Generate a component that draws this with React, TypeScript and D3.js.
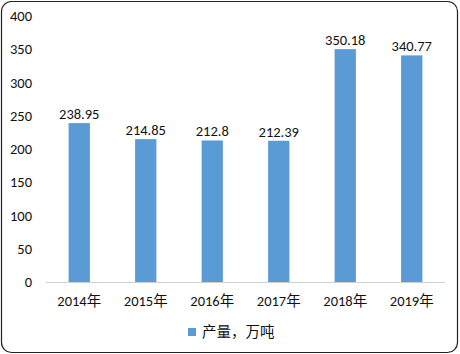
import { useEffect, useRef } from "react"
import * as d3 from "d3"

const years = ["2014年", "2015年", "2016年", "2017年", "2018年", "2019年"]
const output = [238.95, 214.85, 212.8, 212.39, 350.18, 340.77]
const yTicks = [0, 50, 100, 150, 200, 250, 300, 350, 400]
const seriesName = "产量，万吨"

export default function App() {
  const svgRef = useRef<SVGSVGElement>(null)

  useEffect(() => {
    document.body.style.margin = "0"
    const svg = d3.select(svgRef.current)
    svg.selectAll("*").remove()

    const width = 460
    const height = 354
    const font = "Calibri, Carlito, 'Liberation Sans', 'Noto Sans CJK SC', sans-serif"
    const fs = "14.5px"

    // Border
    svg.append("rect")
      .attr("x", 1.5).attr("y", 1.5)
      .attr("width", width - 4).attr("height", height - 3)
      .attr("rx", 10)
      .attr("fill", "white")
      .attr("stroke", "#222")
      .attr("stroke-width", 1.2)

    const x = d3.scaleBand()
      .domain(years)
      .range([46, 445])
      .paddingInner(0.68)
      .paddingOuter(0.34)

    const y = d3.scaleLinear()
      .domain([0, 400])
      .range([282, 16])

    // Y tick labels
    svg.append("g").selectAll("text")
      .data(yTicks)
      .enter()
      .append("text")
      .attr("x", 32)
      .attr("y", d => y(d))
      .attr("dy", "0.35em")
      .attr("text-anchor", "end")
      .attr("font-family", font)
      .attr("font-size", fs)
      .attr("fill", "#111")
      .text(d => d)

    // Bars
    svg.append("g").selectAll("rect")
      .data(output)
      .enter()
      .append("rect")
      .attr("x", (d, i) => x(years[i])!)
      .attr("y", d => y(d))
      .attr("width", x.bandwidth())
      .attr("height", d => y(0) - y(d))
      .attr("fill", "#5B9BD5")

    // Value labels
    svg.append("g").selectAll("text")
      .data(output)
      .enter()
      .append("text")
      .attr("x", (d, i) => x(years[i])! + x.bandwidth() / 2)
      .attr("y", d => y(d) - 4)
      .attr("text-anchor", "middle")
      .attr("font-family", font)
      .attr("font-size", fs)
      .attr("fill", "#111")
      .text(d => d)

    // X axis line
    svg.append("line")
      .attr("x1", 46).attr("x2", 445)
      .attr("y1", y(0) + 0.5).attr("y2", y(0) + 0.5)
      .attr("stroke", "#d0d0d0")
      .attr("stroke-width", 1)

    // X labels
    svg.append("g").selectAll("text")
      .data(years)
      .enter()
      .append("text")
      .attr("x", d => x(d)! + x.bandwidth() / 2)
      .attr("y", 301)
      .attr("dy", "0.35em")
      .attr("text-anchor", "middle")
      .attr("font-family", font)
      .attr("font-size", fs)
      .attr("fill", "#111")
      .text(d => d)

    // Legend
    const legend = svg.append("g").attr("transform", "translate(188, 328)")
    legend.append("rect")
      .attr("width", 8).attr("height", 8)
      .attr("fill", "#5B9BD5")
    legend.append("text")
      .attr("x", 14)
      .attr("y", 4)
      .attr("dy", "0.35em")
      .attr("font-family", font)
      .attr("font-size", fs)
      .attr("fill", "#111")
      .text(seriesName)
  }, [])

  return <svg ref={svgRef} width={460} height={354} style={{ display: "block" }}></svg>
}
